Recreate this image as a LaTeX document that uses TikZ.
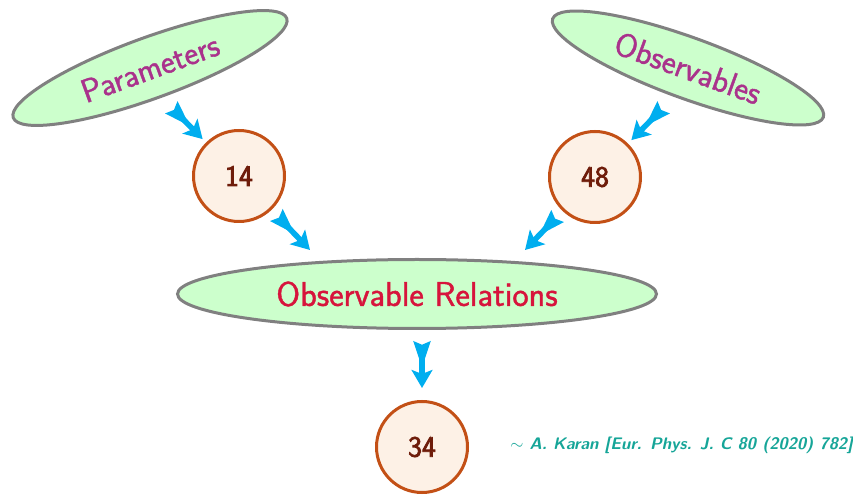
\documentclass[tikz,border=0pt]{standalone}
\usepackage{fontspec}
\usepackage{amsmath,amssymb}
\usetikzlibrary{positioning,shapes.geometric,arrows.meta}

\newfontfamily\labfont{Latin Modern Sans}[FakeBold=1.2]
\newfontfamily\numfont{Latin Modern Sans}[FakeBold=2.6]

\definecolor{ellfill}{RGB}{204,255,204}
\definecolor{ellline}{RGB}{128,128,128}
\definecolor{circfill}{RGB}{253,241,230}
\definecolor{circline}{RGB}{195,80,22}
\definecolor{numtext}{RGB}{110,28,10}
\definecolor{labtext}{RGB}{170,50,140}
\definecolor{reltext}{RGB}{215,20,60}
\definecolor{flowblue}{RGB}{0,174,239}
\definecolor{citetext}{RGB}{22,165,152}

\begin{document}
\begin{tikzpicture}
  [font=\sffamily,
   ell/.style={ellipse,draw=ellline,fill=ellfill,line width=0.075cm,inner sep=0pt},
   num/.style={circle,draw=circline,fill=circfill,line width=0.075cm,
     minimum size=2.275cm,inner sep=0pt,text=numtext,font=\numfont\fontsize{21}{23}\selectfont},
   flow/.style={draw=flowblue,line width=0.14cm,
     {Stealth[reversed,length=0.65cm,width=0.4cm,inset=0.07cm]}-{Stealth[length=0.45cm,width=0.52cm,inset=0.1cm]}}]

  \useasboundingbox (0,0) rectangle (21.325,12.35);

  \node[ell,minimum width=7.275cm,minimum height=1.525cm,rotate=20,text=labtext,
    font=\labfont\fontsize{23.5}{26}\selectfont] (par) at (3.75,10.65) {Parameters};
  \node[ell,minimum width=7.2cm,minimum height=1.525cm,rotate=-20,text=labtext,
    font=\labfont\fontsize{23.5}{26}\selectfont] (obs) at (17.2,10.65) {Observables};

  \node[num] (n14) at (5.975,7.95) {14};
  \node[num] (n48) at (14.875,7.925) {48};

  \node[ell,minimum width=11.975cm,minimum height=1.725cm,text=reltext,
    font=\labfont\fontsize{24.5}{27}\selectfont] (rel) at (10.425,5.0) {Observable Relations};

  \node[num] (n34) at (10.55,1.175) {34};

  \node[anchor=west,inner sep=0pt,text=citetext,font=\sffamily\bfseries\itshape\fontsize{11.9}{14}\selectfont]
    (cite) at (12.75,1.225) {$\sim$ A. Karan [Eur. Phys. J. C 80 (2020) 782]};

  \coordinate (t1) at (4.3,9.65);
  \coordinate (e2) at (7.75,6.1);
  \coordinate (t3) at (16.575,9.65);
  \coordinate (e4) at (13.125,6.1);

  \draw[flow,shorten >=0.12cm] (t1) -- (n14);
  \draw[flow,shorten <=0.2cm] (n14) -- (e2);
  \draw[flow,shorten >=0.12cm] (t3) -- (n48);
  \draw[flow,shorten <=0.2cm] (n48) -- (e4);
  \draw[flow,shorten <=0.3cm,shorten >=0.3cm] (rel.south -| n34) -- (n34);

\end{tikzpicture}
\end{document}
